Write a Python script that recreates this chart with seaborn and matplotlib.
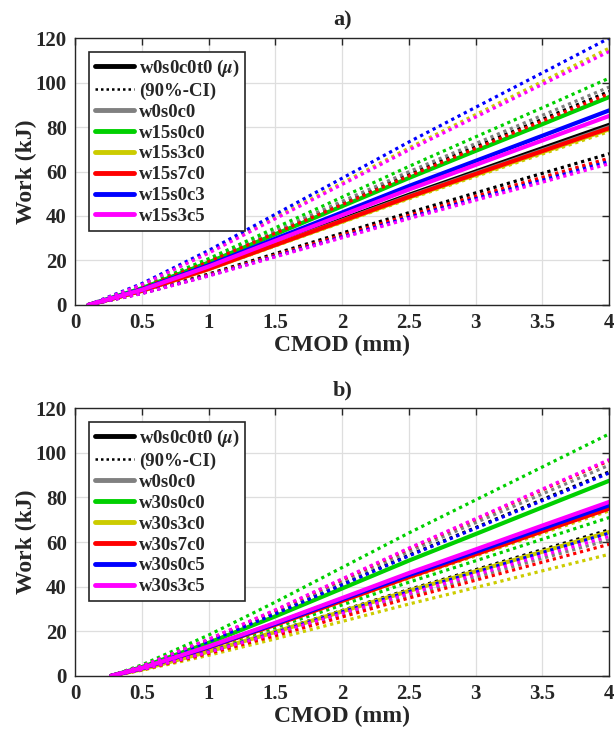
import numpy as np
import pandas as pd
import matplotlib
matplotlib.use("Agg")
import matplotlib.pyplot as plt
import seaborn as sns

# ---------------- data ----------------
cmod_a = [0.1, 0.5, 1.0, 1.5, 2.0, 2.5, 3.0, 3.5, 4.0]
cmod_b = [0.27, 0.5, 1.0, 1.5, 2.0, 2.5, 3.0, 3.5, 4.0]

labels_a = ["w0s0c0t0", "w0s0c0", "w15s0c0", "w15s3c0", "w15s7c0", "w15s0c3", "w15s3c5"]
labels_b = ["w0s0c0t0", "w0s0c0", "w30s0c0", "w30s3c0", "w30s7c0", "w30s0c5", "w30s3c5"]
colors = ["#000000", "#808080", "#00D000", "#CCCC00", "#FF0000", "#0000FF", "#FF00FF"]

# panel a) mean, upper CI, lower CI  (Work, kJ)
mean_a = [
    [0, 6.5, 16.5, 27.5, 38.5, 49.5, 60.0, 70.5, 81.0],
    [0, 6.4, 16.3, 27.2, 38.0, 48.9, 59.3, 69.6, 80.0],
    [0, 7.5, 19.1, 31.8, 44.4, 57.1, 69.3, 81.3, 93.5],
    [0, 6.3, 16.1, 26.9, 37.5, 48.3, 58.5, 68.7, 79.0],
    [0, 6.4, 16.2, 27.0, 37.8, 48.6, 58.9, 69.2, 79.5],
    [0, 7.0, 17.9, 29.8, 41.6, 53.5, 64.8, 76.1, 87.5],
    [0, 6.8, 17.3, 28.9, 40.4, 51.9, 63.0, 74.0, 85.0],
]
upper_a = [
    [0, 7.7, 19.6, 32.6, 45.6, 58.7, 71.1, 83.5, 96.0],
    [0, 7.8, 20.0, 33.3, 46.6, 59.9, 72.6, 85.3, 98.0],
    [0, 8.2, 20.8, 34.7, 48.5, 62.3, 75.6, 88.7, 102.0],
    [0, 9.2, 23.6, 39.3, 54.9, 70.6, 85.6, 100.5, 115.5],
    [0, 7.6, 19.4, 32.3, 45.1, 58.0, 70.4, 82.7, 95.0],
    [0, 9.6, 24.5, 40.8, 57.0, 73.3, 88.9, 104.4, 120.0],
    [0, 9.1, 23.3, 38.8, 54.2, 69.7, 84.5, 99.2, 114.0],
]
lower_a = [
    [0, 5.4, 13.9, 23.1, 32.3, 41.5, 50.4, 59.2, 68.0],
    [0, 5.2, 13.4, 22.3, 31.1, 40.0, 48.5, 57.0, 65.5],
    [0, 6.3, 16.1, 26.9, 37.5, 48.3, 58.5, 68.7, 79.0],
    [0, 6.2, 15.9, 26.5, 37.1, 47.7, 57.8, 67.9, 78.0],
    [0, 5.3, 13.5, 22.4, 31.4, 40.3, 48.9, 57.4, 66.0],
    [0, 5.2, 13.2, 21.9, 30.6, 39.4, 47.8, 56.1, 64.5],
    [0, 5.1, 13.0, 21.6, 30.2, 38.8, 47.1, 55.2, 63.5],
]

# panel b)
mean_b = [
    [0, 3.5, 13.0, 23.5, 34.5, 45.5, 56.0, 66.5, 77.0],
    [0, 3.4, 12.9, 23.3, 34.3, 45.2, 55.6, 66.1, 76.5],
    [0, 3.9, 14.8, 26.7, 39.2, 51.7, 63.6, 75.6, 87.5],
    [0, 2.9, 10.9, 19.7, 28.9, 38.1, 46.9, 55.7, 64.5],
    [0, 3.4, 12.7, 22.9, 33.6, 44.3, 54.5, 64.8, 75.0],
    [0, 3.4, 12.9, 23.3, 34.3, 45.2, 55.6, 66.1, 76.5],
    [0, 3.5, 13.2, 23.8, 34.9, 46.1, 56.7, 67.4, 78.0],
]
upper_b = [
    [0, 4.1, 15.5, 27.9, 41.0, 54.1, 66.5, 79.1, 91.5],
    [0, 4.3, 16.0, 28.8, 42.3, 55.8, 68.7, 81.6, 94.5],
    [0, 4.9, 18.3, 33.1, 48.6, 64.1, 78.9, 93.7, 108.5],
    [0, 3.3, 12.5, 22.6, 33.2, 43.7, 53.8, 63.9, 74.0],
    [0, 4.3, 16.3, 29.4, 43.2, 57.0, 70.2, 83.4, 96.5],
    [0, 4.1, 15.4, 27.8, 40.8, 53.8, 66.2, 78.6, 91.0],
    [0, 4.4, 16.4, 29.6, 43.5, 57.3, 70.5, 83.8, 97.0],
]
lower_b = [
    [0, 2.9, 11.1, 20.0, 29.3, 38.7, 47.6, 56.6, 65.5],
    [0, 2.7, 10.3, 18.6, 27.3, 36.1, 44.3, 52.7, 61.0],
    [0, 3.2, 12.0, 21.7, 31.8, 42.0, 51.6, 61.3, 71.0],
    [0, 2.5, 9.2, 16.6, 24.4, 32.2, 39.6, 47.1, 54.5],
    [0, 2.7, 10.0, 18.0, 26.4, 34.9, 42.9, 51.0, 59.0],
    [0, 2.9, 10.8, 19.5, 28.7, 37.8, 46.5, 55.3, 64.0],
    [0, 2.8, 10.6, 19.1, 28.0, 36.9, 45.4, 54.0, 62.5],
]

# ---------------- style ----------------
sns.set_theme(style="whitegrid")
plt.rcParams["font.family"] = ["Liberation Serif", "DejaVu Serif"]
plt.rcParams["font.weight"] = "bold"
plt.rcParams["mathtext.fontset"] = "stix"
plt.rcParams["axes.labelweight"] = "bold"
plt.rcParams["axes.titleweight"] = "bold"

DOT = (0, (1, 1.2))

fig = plt.figure(figsize=(6.16, 7.33), dpi=100)
ax_a = fig.add_axes([0.122, 0.584, 0.867, 0.364])
ax_b = fig.add_axes([0.122, 0.078, 0.867, 0.365])


def draw(ax, x, labels, means, ups, lows, title):
    for i, (lab, col) in enumerate(zip(labels, colors)):
        name = lab + r" ($\mu$)" if i == 0 else lab
        sns.lineplot(x=x, y=means[i], ax=ax, color=col, lw=3.0,
                     label=name, estimator=None, sort=False)
        sns.lineplot(x=x, y=ups[i], ax=ax, color=col, lw=2.3, linestyle=DOT,
                     label="(90%-CI)" if i == 0 else "_nolegend_",
                     estimator=None, sort=False)
        sns.lineplot(x=x, y=lows[i], ax=ax, color=col, lw=2.3, linestyle=DOT,
                     label="_nolegend_", estimator=None, sort=False)
    ax.set_xlim(0, 4)
    ax.set_ylim(0, 120)
    ax.set_xticks([0, 0.5, 1, 1.5, 2, 2.5, 3, 3.5, 4])
    ax.set_xticklabels(["0", "0.5", "1", "1.5", "2", "2.5", "3", "3.5", "4"])
    ax.set_yticks(range(0, 121, 20))
    ax.set_xlabel("CMOD (mm)", fontsize=17, fontweight="bold", labelpad=1)
    ax.set_ylabel("Work (kJ)", fontsize=17, fontweight="bold", labelpad=-1)
    ax.set_title(title, fontsize=16, fontweight="bold", pad=9)
    ax.grid(True, color="#dedede", lw=0.9)
    ax.set_facecolor("white")
    for sp in ax.spines.values():
        sp.set_color("#262626")
        sp.set_linewidth(1.0)
    ax.tick_params(direction="in", length=5, width=1.0, color="#262626",
                   top=True, right=True, labelsize=15, pad=6)
    for t in ax.get_xticklabels() + ax.get_yticklabels():
        t.set_fontweight("bold")
    h, l = ax.get_legend_handles_labels()
    leg = ax.legend(h, l, loc="upper left", bbox_to_anchor=(0.026, 0.948),
                    borderaxespad=0, frameon=True, fancybox=False,
                    edgecolor="#262626", framealpha=1,
                    handlelength=2.1, handletextpad=0.25, labelspacing=0.2,
                    borderpad=0.3, prop={"weight": "bold", "size": 13.5})
    leg.get_frame().set_linewidth(1.2)
    for line in leg.get_lines():
        if line.get_linestyle() not in ("-", "solid"):
            line.set_linewidth(1.8)
        else:
            line.set_linewidth(3.5)


draw(ax_a, cmod_a, labels_a, mean_a, upper_a, lower_a, "a)")
draw(ax_b, cmod_b, labels_b, mean_b, upper_b, lower_b, "b)")

fig.savefig("out.png", dpi=100)
